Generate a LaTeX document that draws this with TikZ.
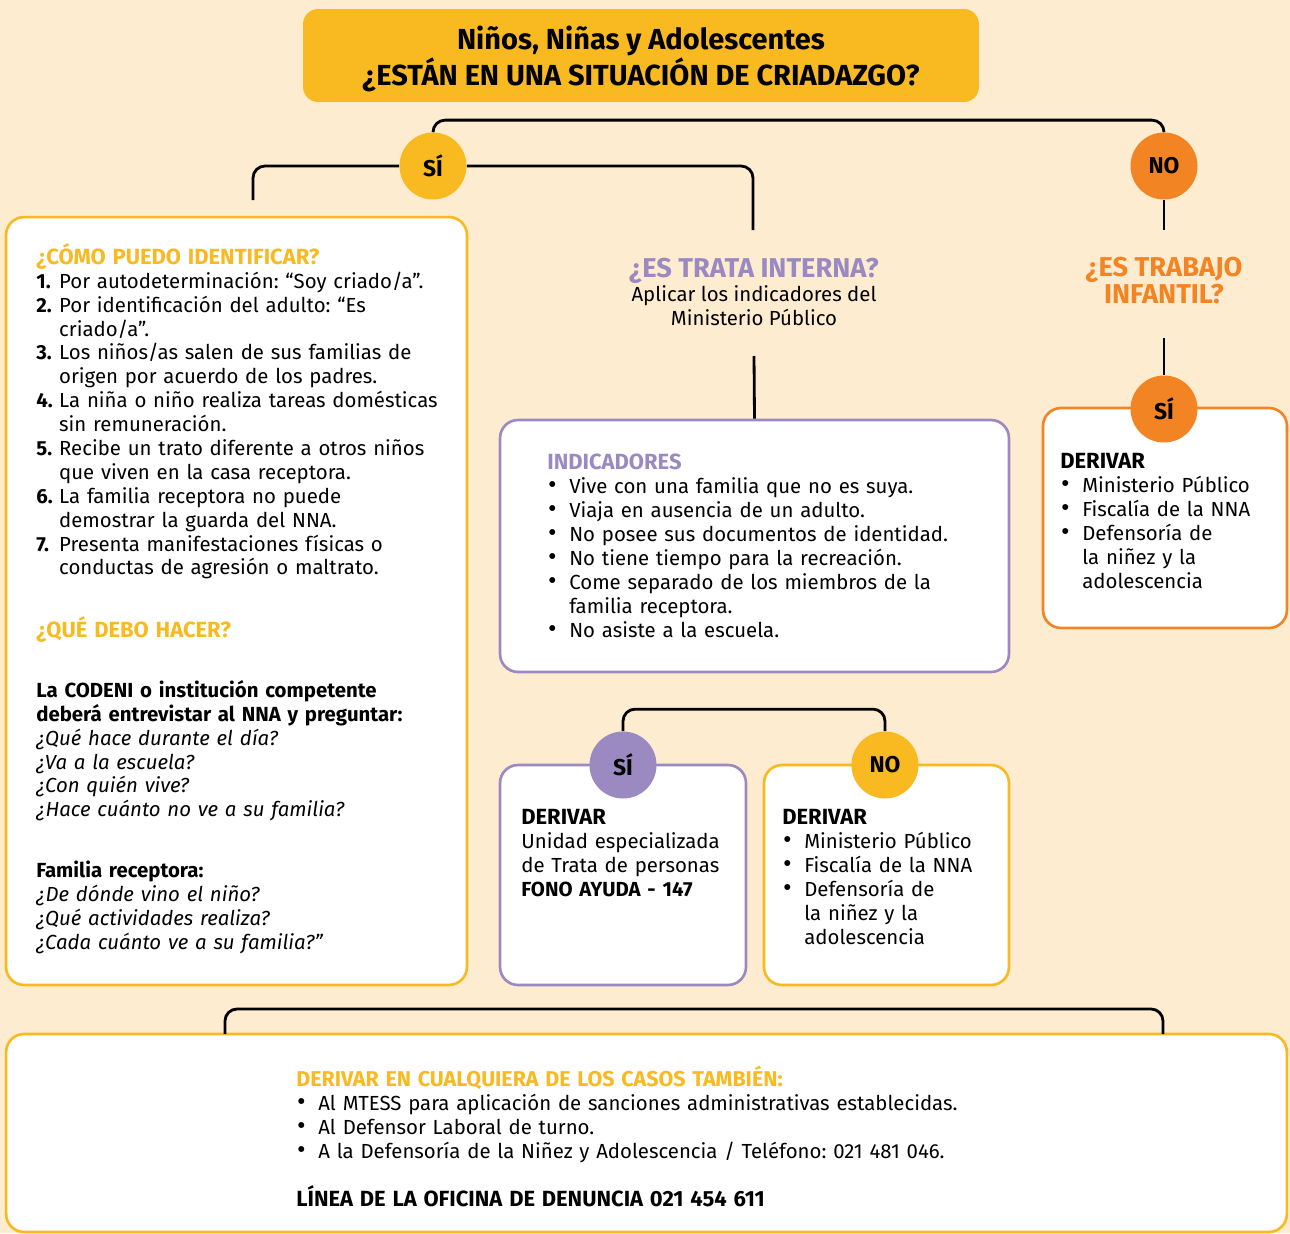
\documentclass[tikz,border=0pt]{standalone}
\usepackage{fontspec}
\setmainfont{Fira Sans}
\usetikzlibrary{positioning}

\definecolor{crema}{RGB}{254,236,209}
\definecolor{amarillo}{RGB}{248,186,32}
\definecolor{naranja}{RGB}{243,132,36}
\definecolor{morado}{RGB}{155,137,194}

% headings, numbered and bulleted lines with hanging indent
\newcommand\cabeza[2]{{\color{#1}\fontsize{12.5}{13.6}\selectfont\bfseries #2}}
\newcommand\numitem[2]{\par\hangindent=13pt\hangafter=1\noindent\makebox[13pt][l]{\bfseries #1}#2\par}
\newcommand\bulitem[1]{\par\hangindent=12.5pt\hangafter=1\noindent\makebox[12.5pt][l]{\hspace{0.5pt}{\fontsize{15}{13.6}\selectfont\textbullet}}#1\par}

\tikzset{
  caja/.style={draw=#1, line width=1.5pt, fill=white, rounded corners=0.36cm, inner sep=0pt},
  bola/.style={circle, fill=#1, minimum size=1.34cm, inner sep=0pt, font=\fontsize{13}{15}\selectfont\bfseries},
  linea/.style={line width=1.6pt, rounded corners=0.24cm},
  texto/.style={anchor=north west, inner sep=0pt, align=left, text width=#1, font=\fontsize{11.6}{13.6}\selectfont\frenchspacing},
}

\begin{document}
\begin{tikzpicture}[x=0.02cm, y=-0.02cm]
  \useasboundingbox (0,0) rectangle (1290,1233);
  \fill [crema] (0,0) rectangle (1290,1233);

  % title
  \node [fill=amarillo, rounded corners=0.3cm, minimum width=13.52cm, minimum height=1.86cm] (titulo) at (641,55.5) {};
  \node [align=center, inner sep=0pt, font=\fontsize{16.5}{18.7}\selectfont\bfseries] (tituloTxt) at (641,59)
        {Niños, Niñas y Adolescentes\\¿ESTÁN EN UNA SITUACIÓN DE CRIADAZGO?};

  % boxes
  \node [caja=amarillo, minimum width=9.22cm, minimum height=15.36cm] (izqBox) at (236.5,601) {};
  \node [caja=morado, minimum width=10.18cm, minimum height=5.04cm] (indBox) at (754.5,546) {};
  \node [caja=naranja, minimum width=4.88cm, minimum height=4.4cm] (infBox) at (1165,518) {};
  \node [caja=morado, minimum width=4.92cm, minimum height=4.4cm] (trataBox) at (623,875) {};
  \node [caja=amarillo, minimum width=4.9cm, minimum height=4.4cm] (noBox) at (886.5,875) {};
  \node [caja=amarillo, minimum width=25.62cm, minimum height=3.96cm] (finBox) at (646.5,1133) {};

  % left box texts
  \node [texto=8.6cm] (comoTxt) at (36,243) {\cabeza{amarillo}{¿CÓMO PUEDO IDENTIFICAR?}
    \numitem{1.}{Por autodeterminación: “Soy criado/a”.}
    \numitem{2.}{Por identificación del adulto: “Es\newline criado/a”.}
    \numitem{3.}{Los niños/as salen de sus familias de\newline origen por acuerdo de los padres.}
    \numitem{4.}{La niña o niño realiza tareas domésticas\newline sin remuneración.}
    \numitem{5.}{Recibe un trato diferente a otros niños\newline que viven en la casa receptora.}
    \numitem{6.}{La familia receptora no puede\newline demostrar la guarda del NNA.}
    \numitem{7.}{Presenta manifestaciones físicas o\newline conductas de agresión o maltrato.}};
  \node [texto=8.6cm] (debeTxt) at (36,616) {\cabeza{amarillo}{¿QUÉ DEBO HACER?}};
  \node [texto=8.6cm] (codeniTxt) at (36,680) {\textbf{La CODENI o institución competente}\par
    \textbf{deberá entrevistar al NNA y preguntar:}\par
    \textit{¿Qué hace durante el día?}\par
    \textit{¿Va a la escuela?}\par
    \textit{¿Con quién vive?}\par
    \textit{¿Hace cuánto no ve a su familia?}};
  \node [texto=8.6cm] (familiaTxt) at (36,861) {\textbf{Familia receptora:}\par
    \textit{¿De dónde vino el niño?}\par
    \textit{¿Qué actividades realiza?}\par
    \textit{¿Cada cuánto ve a su familia?"}};

  % middle column
  \node [anchor=north, align=center, inner sep=0pt, font=\fontsize{11.6}{13.6}\selectfont] (trata) at (754,258)
        {\textcolor{morado}{\fontsize{15.5}{14.7}\selectfont\bfseries ¿ES TRATA INTERNA?}\\
         Aplicar los indicadores del\\Ministerio Público};
  \node [texto=9.4cm] (indTxt) at (547,454) {\cabeza{morado}{INDICADORES}
    \bulitem{Vive con una familia que no es suya.}
    \bulitem{Viaja en ausencia de un adulto.}
    \bulitem{No posee sus documentos de identidad.}
    \bulitem{No tiene tiempo para la recreación.}
    \bulitem{Come separado de los miembros de la\newline familia receptora.}
    \bulitem{No asiste a la escuela.}};
  \node [texto=4.4cm] (trataTxt) at (521,809) {\cabeza{black}{DERIVAR}\par
    Unidad especializada\par de Trata de personas\par \textbf{FONO AYUDA - 147}};
  \node [texto=4.4cm] (noTxt) at (782,809) {\cabeza{black}{DERIVAR}
    \bulitem{Ministerio Público}
    \bulitem{Fiscalía de la NNA}
    \bulitem{Defensoría de\newline la niñez y la\newline adolescencia}};

  % right column
  \node [anchor=north, align=center, inner sep=0pt, text=naranja, font=\fontsize{15.5}{14.2}\selectfont\bfseries] (trabajo) at (1164,257)
        {¿ES TRABAJO\\INFANTIL?};
  \node [texto=4.4cm] (infTxt) at (1060,453) {\cabeza{black}{DERIVAR}
    \bulitem{Ministerio Público}
    \bulitem{Fiscalía de la NNA}
    \bulitem{Defensoría de\newline la niñez y la\newline adolescencia}};

  % bottom box
  \node [texto=20cm] (finTxt) at (296,1066) {{\color{amarillo}\fontsize{12.2}{13.6}\selectfont\bfseries DERIVAR EN CUALQUIERA DE LOS CASOS TAMBIÉN:}
    \bulitem{Al MTESS para aplicación de sanciones administrativas establecidas.}
    \bulitem{Al Defensor Laboral de turno.}
    \bulitem{A la Defensoría de la Niñez y Adolescencia / Teléfono: 021 481 046.}
    \mbox{}\par
    \cabeza{black}{LÍNEA DE LA OFICINA DE DENUNCIA 021 454 611}};

  % circles
  \node [bola=amarillo] (si1) at (433,166) {SÍ};
  \node [bola=naranja] (no1) at (1164,166) {NO};
  \node [bola=naranja] (si2) at (1164,409) {SÍ};
  \node [bola=morado] (siT) at (623,765) {SÍ};
  \node [bola=amarillo] (noT) at (885,765) {NO};

  % connectors
  \coordinate (izqFin) at (253,200);
  \coordinate (derFin) at (753,230);
  \coordinate (noFin) at (1164,230);
  \coordinate (infFin) at (1164,338);
  \coordinate (trataFin) at (754,356);
  \coordinate (bajoIzq) at (225,1034);
  \coordinate (bajoDer) at (1163,1034);

  \draw [linea] (si1.north) -- ++(0,-12) -| (no1.north);
  \draw [linea] (si1.west) -| (izqFin);
  \draw [linea] (si1.east) -| (derFin);
  \draw [linea] (no1.south) -- (noFin);
  \draw [linea] (infFin) -- (si2.north);
  \draw [linea] (trataFin) -- (indBox.north);
  \draw [linea] (siT.north) -- ++(0,-22) -| (noT.north);
  \draw [linea] (bajoIzq) -- ++(0,-25) -| (bajoDer);
\end{tikzpicture}
\end{document}
